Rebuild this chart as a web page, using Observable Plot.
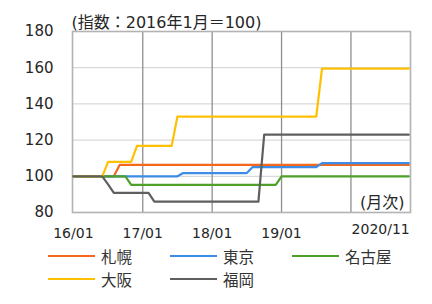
<!DOCTYPE html>
<html>
<head>
<meta charset="utf-8">
<script src="https://cdn.jsdelivr.net/npm/d3@7"></script>
<script src="https://cdn.jsdelivr.net/npm/@observablehq/plot@0.6"></script>
<style>
  html, body { margin: 0; padding: 0; background: #fff; }
  #chart svg { display: block; }
  #legend {
    display: grid;
    grid-template-columns: 122px 122px 122px;
    grid-auto-rows: 22.6px;
    padding-left: 48px;
    font: 15.5px "DejaVu Sans", "Noto Sans CJK JP", sans-serif;
    color: #333;
  }
  .item { display: flex; align-items: center; }
  .sw { width: 47px; height: 2px; margin-right: 6px; }
</style>
</head>
<body>
<div id="chart"></div>
<div id="legend"></div>
<script>
// Series names and colours
const cities = ["札幌", "東京", "名古屋", "大阪", "福岡"];
const colors = ["#f5671b", "#3d8de6", "#4f9f2b", "#ffc000", "#5f5f5f"];

// Monthly index values, 2016/01 .. 2020/11 (59 months)
const sapporo = [100,100,100,100,100,100,100,100,
  106.3,106.3,106.3,106.3,106.3,106.3,106.3,106.3,106.3,106.3,106.3,106.3,106.3,106.3,106.3,106.3,106.3,106.3,
  106.3,106.3,106.3,106.3,106.3,106.3,106.3,106.3,106.3,106.3,106.3,106.3,106.3,106.3,106.3,106.3,106.3,106.3,
  106.3,106.3,106.3,106.3,106.3,106.3,106.3,106.3,106.3,106.3,106.3,106.3,106.3,106.3,106.3];
const tokyo = [100,100,100,100,100,100,100,100,100,100,100,100,100,100,100,100,100,100,100,
  101.8,101.8,101.8,101.8,101.8,101.8,101.8,101.8,101.8,101.8,101.8,101.8,
  105.1,105.1,105.1,105.1,105.1,105.1,105.1,105.1,105.1,105.1,105.1,105.1,
  107.3,107.3,107.3,107.3,107.3,107.3,107.3,107.3,107.3,107.3,107.3,107.3,107.3,107.3,107.3,107.3];
const nagoya = [100,100,100,100,100,100,100,100,100,100,
  95.3,95.3,95.3,95.3,95.3,95.3,95.3,95.3,95.3,95.3,95.3,95.3,95.3,95.3,95.3,95.3,95.3,95.3,95.3,95.3,95.3,95.3,95.3,95.3,95.3,95.3,
  100,100,100,100,100,100,100,100,100,100,100,100,100,100,100,100,100,100,100,100,100,100,100];
const osaka = [100,100,100,100,100,100,
  108,108,108,108,108,
  116.8,116.8,116.8,116.8,116.8,116.8,116.8,
  133,133,133,133,133,133,133,133,133,133,133,133,133,133,133,133,133,133,133,133,133,133,133,133,133,
  159.5,159.5,159.5,159.5,159.5,159.5,159.5,159.5,159.5,159.5,159.5,159.5,159.5,159.5,159.5,159.5];
const fukuoka = [100,100,100,100,100,100,
  95.5,
  90.8,90.8,90.8,90.8,90.8,90.8,90.8,
  86,86,86,86,86,86,86,86,86,86,86,86,86,86,86,86,86,86,86,
  123,123,123,123,123,123,123,123,123,123,123,123,123,123,123,123,123,123,123,123,123,123,123,123,123,123];

// Axis ticks
const yTicks = [80, 100, 120, 140, 160, 180];
const yGrid = [100, 120, 140, 160];
const xTickPos = [0, 12, 24, 36];
const xTickLabels = ["16/01", "17/01", "18/01", "19/01"];
const xGrid = [12, 24, 36, 48];
const lastPos = [58];
const lastLabel = ["2020/11"];
const title = "(指数：2016年1月＝100)";
const unitLabel = "(月次)";

const seriesValues = [sapporo, tokyo, nagoya, osaka, fukuoka];
const data = cities.flatMap((name, i) => seriesValues[i].map((v, t) => ({name, t, v})));

const font = `"DejaVu Sans", "Noto Sans CJK JP", sans-serif`;

const chart = Plot.plot({
  width: 432,
  height: 245,
  marginLeft: 72,
  marginRight: 22,
  marginTop: 31,
  marginBottom: 33,
  style: {fontFamily: font, color: "#262626", background: "#fff"},
  x: {domain: [-0.15, 58.3], axis: null},
  y: {domain: [80, 180], axis: null},
  color: {domain: cities, range: colors},
  marks: [
    Plot.ruleY(yGrid, {stroke: "#d9d9d9", strokeWidth: 1.3}),
    Plot.ruleX(xGrid, {stroke: "#8f8f8f", strokeWidth: 1.3}),
    Plot.frame({stroke: "#b3b3b3", strokeWidth: 1.6}),
    Plot.line(data, {x: "t", y: "v", z: "name", stroke: "name", strokeWidth: 2.2, strokeLinejoin: "round"}),
    Plot.axisY({ticks: yTicks, tickSize: 0, tickPadding: 19, fontSize: 15, textAnchor: "end", label: null}),
    Plot.text(xTickLabels, {x: (d, i) => xTickPos[i], frameAnchor: "bottom", dy: 21, fontSize: 14, lineAnchor: "middle"}),
    Plot.text(lastLabel, {x: (d, i) => lastPos[i], frameAnchor: "bottom", dy: 17, dx: 1, fontSize: 14, textAnchor: "end", lineAnchor: "middle"}),
    Plot.text([title], {frameAnchor: "top-left", dx: -1, dy: -9, fontSize: 16, textAnchor: "start", lineAnchor: "middle"}),
    Plot.text([unitLabel], {frameAnchor: "bottom-right", dx: -6, dy: -10, fontSize: 16, textAnchor: "end", lineAnchor: "middle"})
  ]
});
document.getElementById("chart").appendChild(chart);

const legend = document.getElementById("legend");
cities.forEach((name, i) => {
  const item = document.createElement("div");
  item.className = "item";
  const sw = document.createElement("span");
  sw.className = "sw";
  sw.style.background = colors[i];
  const lab = document.createElement("span");
  lab.textContent = name;
  item.appendChild(sw);
  item.appendChild(lab);
  legend.appendChild(item);
});
</script>
</body>
</html>
